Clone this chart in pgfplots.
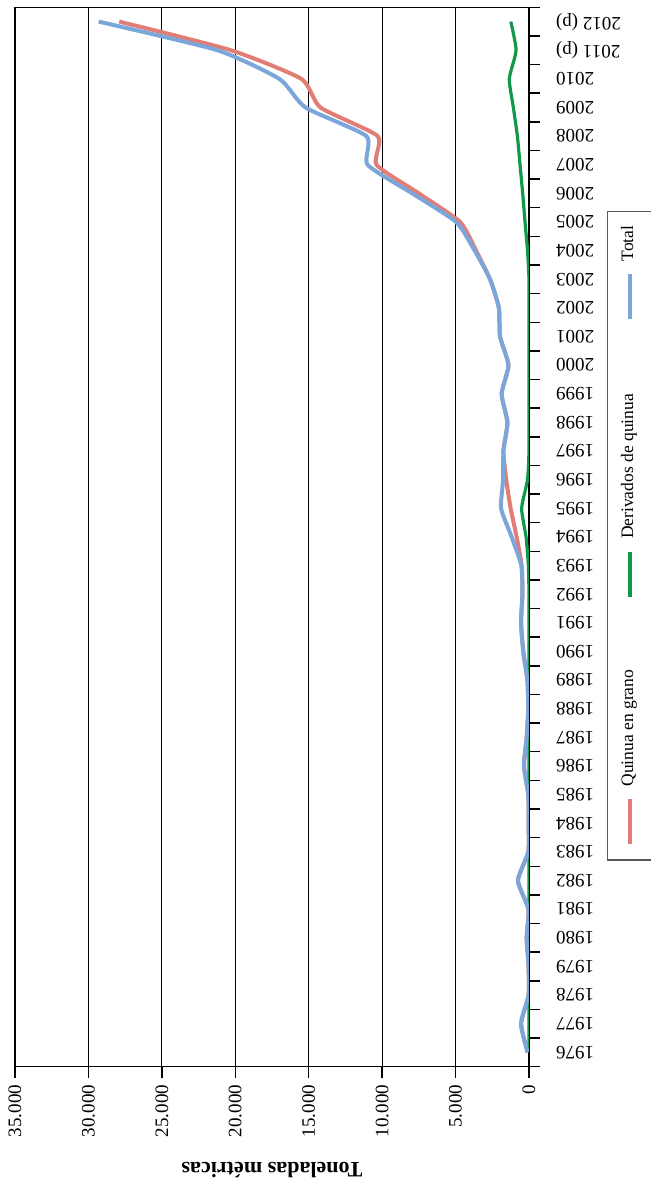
\documentclass[border=0pt]{standalone}
\usepackage{pgfplots}
\pgfplotsset{compat=1.18}
\usepackage{pgfplotstable}
\usepackage{fontspec}
\setmainfont{Liberation Serif}
\definecolor{qred}{HTML}{E27D76}
\definecolor{qgreen}{HTML}{10994A}
\definecolor{qblue}{HTML}{7AA6DA}
\pgfplotstableread{
year grano deriv total
1976 90 0 90
1977 540 0 540
1978 30 0 30
1979 30 0 30
1980 160 0 160
1981 40 0 40
1982 750 0 750
1983 50 0 50
1984 30 0 30
1985 50 0 50
1986 340 0 340
1987 160 0 160
1988 50 0 50
1989 110 0 110
1990 390 0 390
1991 540 0 540
1992 450 0 450
1993 500 40 520
1994 840 200 1180
1995 1250 500 1900
1996 1550 100 1760
1997 1740 0 1740
1998 1470 0 1470
1999 1860 0 1860
2000 1400 0 1400
2001 1970 0 1970
2002 2050 0 2050
2003 2650 0 2650
2004 3600 100 3700
2005 4690 270 4960
2006 7500 430 7950
2007 10380 610 10990
2008 10300 790 11070
2009 14200 1065 15220
2010 15500 1340 17000
2011 20300 880 21220
2012 27900 1240 29300
}\datatable
\begin{document}
\begin{tikzpicture}
\useasboundingbox (0,0) rectangle (325pt,589.5pt);
\begin{axis}[
  at={(7.5pt,56.15pt)}, anchor=south west,
  scale only axis, width=257pt, height=529.7pt,
  xmin=0, xmax=35000, x dir=reverse,
  ymin=1975.5, ymax=2012.5,
  axis line style={black, line width=0.65pt},
  xtick={0,5000,10000,15000,20000,25000,30000,35000},
  xticklabels={0,5.000,10.000,15.000,20.000,25.000,30.000,35.000},
  scaled x ticks=false,
  xtick pos=left,
  xmajorgrids,
  grid style={black, line width=0.5pt},
  ytick={1975.5,1976.5,1977.5,1978.5,1979.5,1980.5,1981.5,1982.5,1983.5,1984.5,1985.5,1986.5,1987.5,1988.5,1989.5,1990.5,1991.5,1992.5,1993.5,1994.5,1995.5,1996.5,1997.5,1998.5,1999.5,2000.5,2001.5,2002.5,2003.5,2004.5,2005.5,2006.5,2007.5,2008.5,2009.5,2010.5,2011.5,2012.5},
  y tick label as interval,
  yticklabels={1976,1977,1978,1979,1980,1981,1982,1983,1984,1985,1986,1987,1988,1989,1990,1991,1992,1993,1994,1995,1996,1997,1998,1999,2000,2001,2002,2003,2004,2005,2006,2007,2008,2009,2010,2011 (p),2012 (p)},
  ytick pos=right,
  yticklabel pos=right,
  yticklabel shift=4.5pt,
  tick align=outside,
  major tick length=5.5pt,
  tick style={black, line width=0.75pt},
  xticklabel style={rotate=90, anchor=east, font=\fontsize{9.5}{11}\selectfont},
  yticklabel style={rotate=180, anchor=east, font=\fontsize{9.5}{11}\selectfont},
  xlabel={Toneladas métricas},
  xlabel style={rotate=180, yshift=6pt, font=\fontsize{11}{13}\selectfont\bfseries},
  every axis plot/.append style={smooth, tension=0.35},
]
\addplot[qred, line width=2pt] table[x=grano, y=year] {\datatable};
\addplot[qgreen, line width=1.6pt] table[x=deriv, y=year] {\datatable};
\addplot[qblue, line width=2pt] table[x=total, y=year] {\datatable};
\end{axis}
\node[rotate=90, anchor=north west, draw=black!65, line width=0.6pt, fill=white,
      inner sep=0pt, font=\fontsize{8.75}{10}\selectfont]
  at (303.5pt,159.15pt)
  {\rule[-20pt]{0pt}{32.8pt}\hspace*{7.85pt}%
   \textcolor{qred}{\rule[0.5pt]{22.5pt}{2pt}}\hspace*{6.5pt}%
   \makebox[57.5pt][l]{Quinua en grano}\hspace*{37.25pt}%
   \textcolor{qgreen}{\rule[0.5pt]{22.5pt}{2pt}}\hspace*{6.5pt}%
   \makebox[72.5pt][l]{Derivados de quinua}\hspace*{37.25pt}%
   \textcolor{qblue}{\rule[0.5pt]{22.5pt}{2pt}}\hspace*{6.5pt}%
   \makebox[21pt][l]{Total}\hspace*{4pt}};
\end{tikzpicture}
\end{document}
